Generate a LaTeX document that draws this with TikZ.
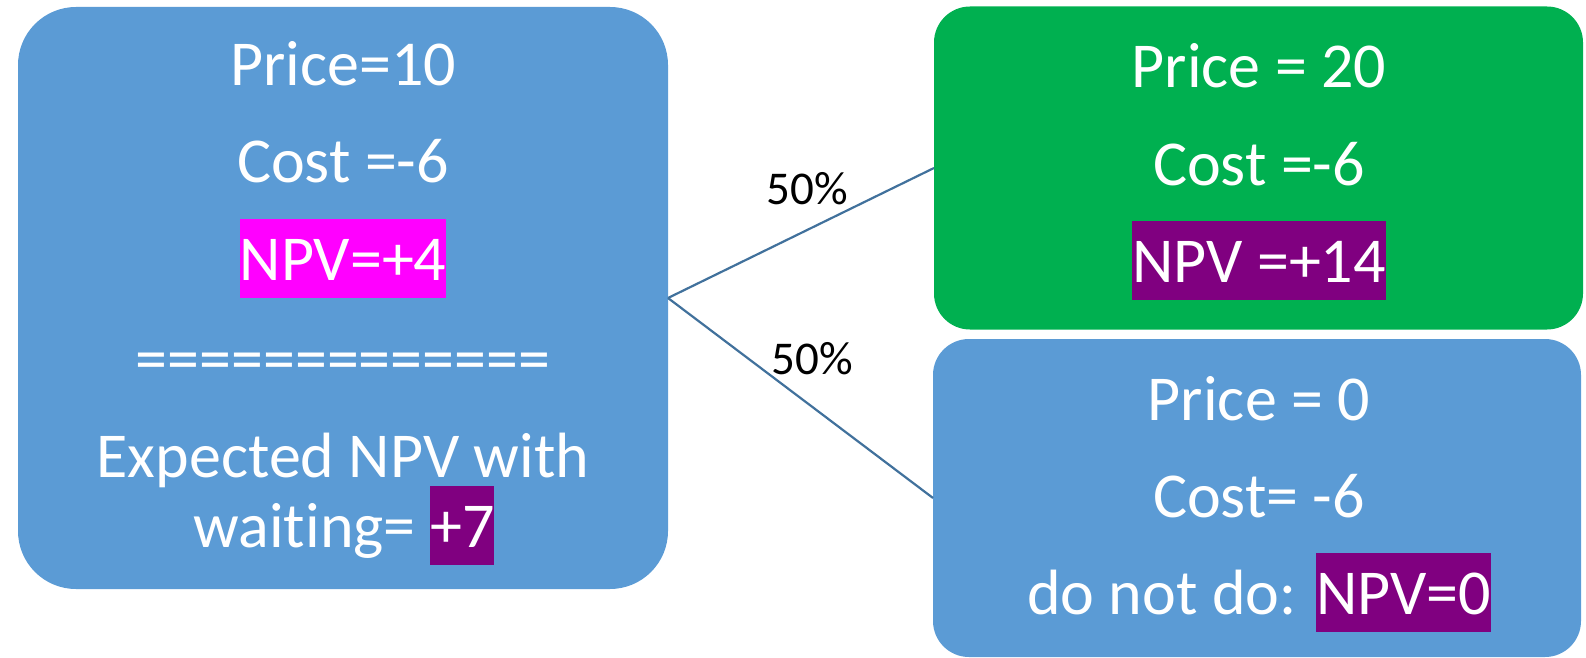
\documentclass[tikz,border=0pt]{standalone}
\usepackage{fontspec}
\setmainfont{Carlito}[Ligatures={NoCommon}]
\definecolor{boxblue}{RGB}{91,155,213}
\definecolor{boxgreen}{RGB}{0,176,80}
\definecolor{hlmag}{RGB}{255,0,255}
\definecolor{hlpur}{RGB}{128,0,128}
\definecolor{linecol}{RGB}{65,113,156}
\newcommand\hlbox[2]{{\setlength{\fboxsep}{0pt}\colorbox{#1}{\rule[-9pt]{0pt}{39.5pt}#2}}}
\tikzset{
  panel/.style={rectangle, inner sep=0pt, outer sep=0pt},
  txt/.style={anchor=base, inner sep=0pt, text=white, font=\fontsize{32}{38}\selectfont},
  prob/.style={anchor=base, inner sep=0pt, text=black, font=\fontsize{23.5}{28}\selectfont},
  conn/.style={draw=linecol, line width=1.1pt}
}
\begin{document}
\begin{tikzpicture}[x=0.5pt,y=-0.5pt]
\useasboundingbox (0,0) rectangle (1586,658);
% panels
\node[panel, fill=boxblue, minimum width=325pt, minimum height=291pt, rounded corners=29pt] (L) at (343,298) {};
\node[panel, fill=boxgreen, minimum width=324.5pt, minimum height=161.5pt, rounded corners=18pt] (G) at (1258.5,168) {};
\node[panel, fill=boxblue, minimum width=324pt, minimum height=159pt, rounded corners=18pt] (B) at (1257,498) {};
% connectors
\draw[conn] (L.east) -- (G.west);
\draw[conn] (L.east) -- (B.west);
\node[prob] (p1) at (807,205) {50\%};
\node[prob] (p2) at (812,374) {50\%};
% left texts
\node[txt] (l1) at (343,86) {Price=10};
\node[txt] (l2) at (343,183) {Cost =-6};
\node[txt] (l3) at (343,280) {\hlbox{hlmag}{NPV=+4}};
\node[txt] (l4) at (343,380) {=============};
\node[txt] (l5) at (343,477) {Expected NPV with};
\node[txt] (l6) at (344,547) {waiting= \hlbox{hlpur}{+7}};
% green texts
\node[txt] (g1) at (1259,88) {Price = 20};
\node[txt] (g2) at (1259,185) {Cost =-6};
\node[txt] (g3) at (1259,282) {\hlbox{hlpur}{NPV =+14}};
% bottom texts
\node[txt] (b1) at (1259,420) {Price = 0};
\node[txt] (b2) at (1259,517) {Cost= -6};
\node[txt] (b3) at (1259,614) {do not do: \hlbox{hlpur}{NPV=0}};
\end{tikzpicture}
\end{document}
